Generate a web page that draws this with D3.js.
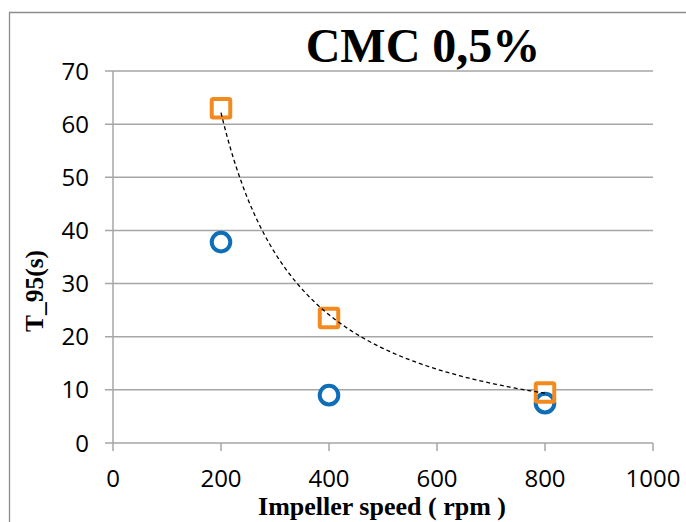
<!DOCTYPE html>
<html>
<head>
<meta charset="utf-8">
<script src="https://cdn.jsdelivr.net/npm/d3@7"></script>
<style>
  html, body { margin: 0; padding: 0; background: #fff; }
  svg { display: block; }
</style>
</head>
<body>
<script>
// T_95 mixing time vs impeller speed, CMC 0.5% solution
const speeds = [200, 400, 800]
const seriesCircle = [37.8, 9.0, 7.5]
const seriesSquare = [63.0, 23.5, 9.5]
const xTicks = [0, 200, 400, 600, 800, 1000]
const yTicks = [0, 10, 20, 30, 40, 50, 60, 70]

const W = 686, H = 522
const blue = '#0E6EB8'
const orange = '#F28A1E'
const gridColor = '#a6a6a6'

const svg = d3.select('body').append('svg')
    .attr('width', W)
    .attr('height', H)

// chart frame
svg.append('path')
    .attr('d', 'M9.5,' + H + 'V12.5H' + W)
    .attr('fill', 'none')
    .attr('stroke', '#8c8c8c')
    .attr('stroke-width', 1.3)

const x = d3.scaleLinear().domain([0, 1000]).range([113, 653])
const y = d3.scaleLinear().domain([0, 70]).range([443, 71])

const tickFont = '"Open Sans", sans-serif'

// horizontal gridlines (they also serve as the y ticks)
svg.append('g')
    .selectAll('line')
    .data(yTicks)
    .enter()
    .append('line')
    .attr('x1', 105)
    .attr('x2', x(1000))
    .attr('y1', d => y(d))
    .attr('y2', d => y(d))
    .attr('stroke', gridColor)
    .attr('stroke-width', 1.5)

// y axis line
svg.append('line')
    .attr('x1', x(0)).attr('x2', x(0))
    .attr('y1', y(70)).attr('y2', y(0))
    .attr('stroke', gridColor)
    .attr('stroke-width', 1.5)

// x ticks
svg.append('g')
    .selectAll('line')
    .data(xTicks)
    .enter()
    .append('line')
    .attr('x1', d => x(d)).attr('x2', d => x(d))
    .attr('y1', y(0)).attr('y2', y(0) + 8)
    .attr('stroke', gridColor)
    .attr('stroke-width', 1.5)

svg.append('g')
    .selectAll('text')
    .data(yTicks)
    .enter()
    .append('text')
    .text(d => d)
    .attr('x', 89)
    .attr('y', d => y(d))
    .attr('dy', '0.36em')
    .attr('text-anchor', 'end')
    .attr('font-family', tickFont)
    .attr('font-size', '24px')
    .attr('fill', '#000')

svg.append('g')
    .selectAll('text')
    .data(xTicks)
    .enter()
    .append('text')
    .text(d => d)
    .attr('x', d => x(d))
    .attr('y', 487)
    .attr('text-anchor', 'middle')
    .attr('font-family', tickFont)
    .attr('font-size', '24px')
    .attr('fill', '#000')

// power trendline through the square series: y = a * x^b (least squares in log space)
const lx = speeds.map(Math.log)
const ly = seriesSquare.map(Math.log)
const mx = d3.mean(lx), my = d3.mean(ly)
const b = d3.sum(lx, (v, i) => (v - mx) * (ly[i] - my)) / d3.sum(lx, v => (v - mx) * (v - mx))
const a = Math.exp(my - b * mx)
const trendX = d3.range(speeds[0], speeds[speeds.length - 1] + 1, 5)
const trendLine = d3.line()
    .x(d => x(d))
    .y(d => y(a * Math.pow(d, b)))

// markers: white fills first, then outlines
const circles = speeds.map((s, i) => ({ x: s, y: seriesCircle[i] }))
const squares = speeds.map((s, i) => ({ x: s, y: seriesSquare[i] }))
const sq = 18.5

svg.append('g')
    .selectAll('circle')
    .data(circles)
    .enter()
    .append('circle')
    .attr('cx', d => x(d.x))
    .attr('cy', d => y(d.y))
    .attr('r', 9.3)
    .attr('fill', '#fff')

svg.append('g')
    .selectAll('rect')
    .data(squares)
    .enter()
    .append('rect')
    .attr('x', d => x(d.x) - sq / 2)
    .attr('y', d => y(d.y) - sq / 2)
    .attr('width', sq)
    .attr('height', sq)
    .attr('fill', '#fff')

svg.append('g')
    .selectAll('circle')
    .data(circles)
    .enter()
    .append('circle')
    .attr('cx', d => x(d.x))
    .attr('cy', d => y(d.y))
    .attr('r', 9.3)
    .attr('fill', 'none')
    .attr('stroke', blue)
    .attr('stroke-width', 4)

svg.append('g')
    .selectAll('rect')
    .data(squares)
    .enter()
    .append('rect')
    .attr('x', d => x(d.x) - sq / 2)
    .attr('y', d => y(d.y) - sq / 2)
    .attr('width', sq)
    .attr('height', sq)
    .attr('rx', 1.5)
    .attr('fill', 'none')
    .attr('stroke', orange)
    .attr('stroke-width', 4)

svg.append('path')
    .datum(trendX)
    .attr('d', trendLine)
    .attr('fill', 'none')
    .attr('stroke', '#000')
    .attr('stroke-width', 1.3)
    .attr('stroke-dasharray', '4,3')

// titles
const serif = '"Liberation Serif", "Times New Roman", serif'

svg.append('text')
    .text('CMC 0,5%')
    .attr('x', 423)
    .attr('y', 62)
    .attr('text-anchor', 'middle')
    .attr('font-family', serif)
    .attr('font-weight', 'bold')
    .attr('font-size', '48px')

svg.append('text')
    .text('Impeller speed ( rpm )')
    .attr('x', 382)
    .attr('y', 515)
    .attr('text-anchor', 'middle')
    .attr('font-family', serif)
    .attr('font-weight', 'bold')
    .attr('font-size', '26px')

svg.append('text')
    .text('T_95(s)')
    .attr('transform', 'translate(43,291) rotate(-90)')
    .attr('text-anchor', 'middle')
    .attr('font-family', serif)
    .attr('font-weight', 'bold')
    .attr('font-size', '25.5px')
</script>
</body>
</html>
